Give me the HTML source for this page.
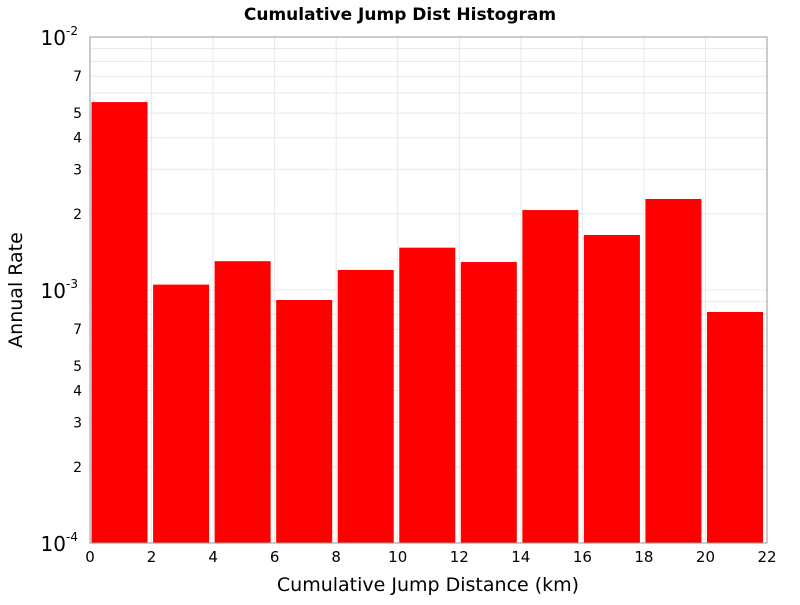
<!DOCTYPE html>
<html><head><meta charset="utf-8"><style>
body{margin:0;background:#fff;font-family:"Liberation Sans","DejaVu Sans",sans-serif;}
svg text{font-family:"DejaVu Sans","Liberation Sans",sans-serif;}
</style></head><body>
<svg id="chart" width="800" height="600" xmlns="http://www.w3.org/2000/svg">
<rect width="800" height="600" fill="#fff"/>
<text x="400" y="20" text-anchor="middle" font-size="17" font-weight="bold">Cumulative Jump Dist Histogram</text>
<g id="grid"></g>
<g id="bars"></g>
<rect x="90" y="37" width="677" height="506" fill="none" stroke="#999" stroke-width="1"/>
<g id="xaxis"></g>
<g id="yaxis"></g>
<text x="428" y="591" text-anchor="middle" font-size="19">Cumulative Jump Distance (km)</text>
<text transform="translate(22,290) rotate(-90)" text-anchor="middle" font-size="19">Annual Rate</text>
</svg>
<script>
const binStarts=[0,2,4,6,8,10,12,14,16,18,20];
const rates=[5.53e-3,1.05e-3,1.30e-3,9.13e-4,1.20e-3,1.47e-3,1.29e-3,2.07e-3,1.65e-3,2.29e-3,8.19e-4];
const xTicks=[0,2,4,6,8,10,12,14,16,18,20,22];
const minorLabels=[2,3,4,5,7];
const NS="http://www.w3.org/2000/svg";
const L=90,R=767,T=37,B=543,xMin=0,xMax=22,yMinE=-4,yMaxE=-2;
const xs=v=>L+(v-xMin)/(xMax-xMin)*(R-L);
const ys=v=>B-(Math.log10(v)-yMinE)/(yMaxE-yMinE)*(B-T);
function mk(t,a,p){const e=document.createElementNS(NS,t);for(const k in a)e.setAttribute(k,a[k]);p.appendChild(e);return e;}
const grid=document.getElementById('grid'),bars=document.getElementById('bars'),xa=document.getElementById('xaxis'),ya=document.getElementById('yaxis');
xTicks.forEach(v=>{const x=xs(v);
 const g=mk('line',{x1:x,x2:x,y1:T,y2:B,stroke:'#e8e8e8'},grid);
 
 const t=mk('text',{x:x,y:B+19,'text-anchor':'middle','font-size':15},xa);t.textContent=v;
 
});
for(let e=yMinE;e<yMaxE;e++){for(let m=1;m<10;m++){const v=m*Math.pow(10,e);const y=ys(v);
 const g=mk('line',{x1:L,x2:R,y1:y,y2:y,stroke:'#e8e8e8'},grid);
 
 if(minorLabels.includes(m)){const t=mk('text',{x:L-8,y:y+5,'text-anchor':'end','font-size':14},ya);t.textContent=m;
 }
}}
for(let e=yMinE;e<=yMaxE;e++){const y=ys(Math.pow(10,e));
 const t=mk('text',{x:L-24,y:y+8,'text-anchor':'end','font-size':20},ya);t.textContent='10';
 
 const s=mk('text',{x:L-24,y:y-2,'text-anchor':'start','font-size':12},ya);s.textContent=e;
 
}
binStarts.forEach((b,i)=>{const x0=xs(b+0.05),x1=xs(b+1.87),y=ys(rates[i]);
 const r=mk('rect',{x:x0,y:y,width:x1-x0,height:B-y,fill:'#ff0000'},bars);
 
});
</script>
</body></html>
